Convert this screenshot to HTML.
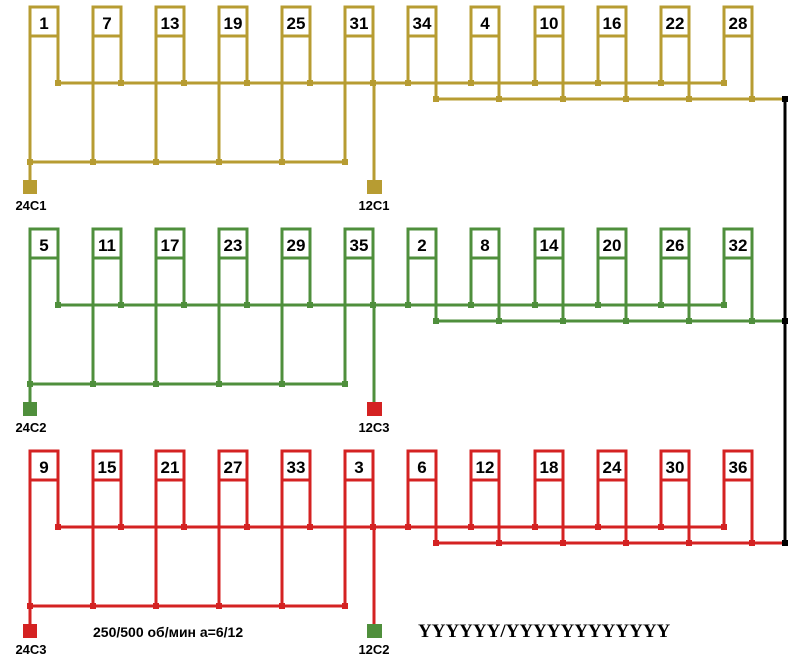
<!DOCTYPE html>
<html><head><meta charset="utf-8"><style>
html,body{margin:0;padding:0;background:#fff;width:802px;height:664px;overflow:hidden}
svg{display:block}
text{font-family:"Liberation Sans",sans-serif;font-weight:bold}
.n{font-size:17px;text-anchor:middle}
.t{font-size:13px;text-anchor:middle}
</style></head><body>
<svg id="s" width="802" height="664" viewBox="0 0 802 664" xmlns="http://www.w3.org/2000/svg">
<g id="g"></g>
<g fill="#000">
<text class="n" x="44" y="29">1</text><text class="n" x="107" y="29">7</text><text class="n" x="170" y="29">13</text><text class="n" x="233" y="29">19</text><text class="n" x="296" y="29">25</text><text class="n" x="359" y="29">31</text><text class="n" x="422" y="29">34</text><text class="n" x="485" y="29">4</text><text class="n" x="549" y="29">10</text><text class="n" x="612" y="29">16</text><text class="n" x="675" y="29">22</text><text class="n" x="738" y="29">28</text>
<text class="n" x="44" y="251">5</text><text class="n" x="107" y="251">11</text><text class="n" x="170" y="251">17</text><text class="n" x="233" y="251">23</text><text class="n" x="296" y="251">29</text><text class="n" x="359" y="251">35</text><text class="n" x="422" y="251">2</text><text class="n" x="485" y="251">8</text><text class="n" x="549" y="251">14</text><text class="n" x="612" y="251">20</text><text class="n" x="675" y="251">26</text><text class="n" x="738" y="251">32</text>
<text class="n" x="44" y="473">9</text><text class="n" x="107" y="473">15</text><text class="n" x="170" y="473">21</text><text class="n" x="233" y="473">27</text><text class="n" x="296" y="473">33</text><text class="n" x="359" y="473">3</text><text class="n" x="422" y="473">6</text><text class="n" x="485" y="473">12</text><text class="n" x="549" y="473">18</text><text class="n" x="612" y="473">24</text><text class="n" x="675" y="473">30</text><text class="n" x="738" y="473">36</text>
<text class="t" x="31" y="210">24C1</text><text class="t" x="374" y="210">12C1</text>
<text class="t" x="31" y="432">24C2</text><text class="t" x="374" y="432">12C3</text>
<text class="t" x="31" y="654">24C3</text><text class="t" x="374" y="654">12C2</text>
<text x="93" y="637" style="font-size:14px">250/500 об/мин a=6/12</text>
<text x="418" y="637" style="font-family:'Liberation Serif',serif;font-size:19px">YYYYYY/YYYYYYYYYYYY</text>
</g>
</svg>
<script>
(function(){
var L=[30,93,156,219,282,345,408,471,535,598,661,724];
var cols=["#b79c32","#4f8f3c","#d42222"];
var term=[["#b79c32","#b79c32"],["#4f8f3c","#d42222"],["#d42222","#4f8f3c"]];
var g=document.getElementById("g"),h="";
function ln(x1,y1,x2,y2,c,w){h+='<line x1="'+x1+'" y1="'+y1+'" x2="'+x2+'" y2="'+y2+'" stroke="'+c+'" stroke-width="'+(w||3)+'"/>';}
function dot(x,y,c){h+='<rect x="'+(x-3)+'" y="'+(y-3)+'" width="6" height="6" fill="'+c+'"/>';}
for(var b=0;b<3;b++){
 var o=b*222,c=cols[b];
 var ty=7+o,mid=36+o,b1=83+o,b2=99+o,b3=162+o;
 ln(30,b3,346,b3,c);ln(59,b1,726,b1,c);ln(437,b2,785,b2,c);
 for(var i=0;i<12;i++){
  var x=L[i],r=x+28;
  h+='<rect x="'+x+'" y="'+ty+'" width="28" height="29" fill="#fff" stroke="'+c+'" stroke-width="3"/>';
  if(i<6){ln(x,mid,x,b3,c);dot(x,b3,c);ln(r,mid,r,b1,c);dot(r,b1,c);}
  else{ln(x,mid,x,b1,c);dot(x,b1,c);ln(r,mid,r,b2,c);dot(r,b2,c);}
 }
 ln(30,b3,30,180+o,c);ln(374,b1,374,180+o,c);
 h+='<rect x="23" y="'+(180+o)+'" width="14" height="14" fill="'+term[b][0]+'"/>';
 h+='<rect x="367" y="'+(180+o)+'" width="15" height="14" fill="'+term[b][1]+'"/>';
 dot(785,b2,"#000");
}
ln(785,99,785,542,"#000",3);
g.innerHTML=h;
})();
</script>
</body></html>
